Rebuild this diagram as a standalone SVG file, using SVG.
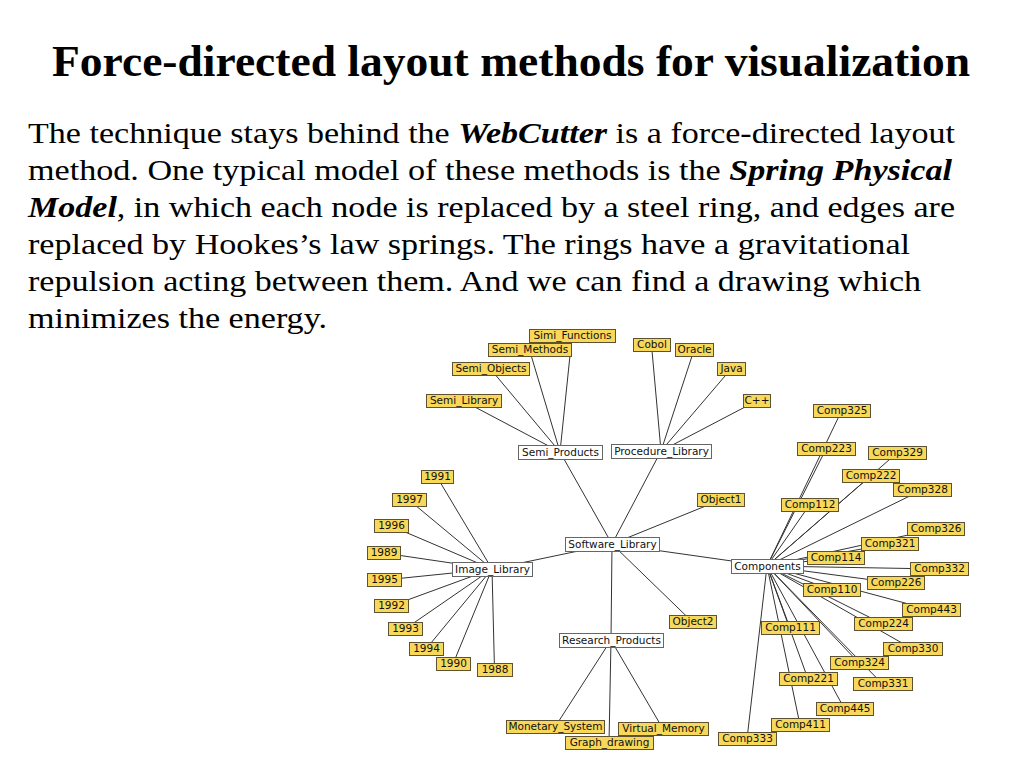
<svg xmlns="http://www.w3.org/2000/svg" width="1024" height="768" viewBox="0 0 1024 768">
<style>
.title{font-family:'Liberation Serif',serif;font-weight:bold;font-size:45px;fill:#000}
.body{font-family:'Liberation Serif',serif;font-size:30px;fill:#000}
.bi{font-weight:bold;font-style:italic}
.edges line{stroke:#333;stroke-width:1}
.leaf rect{fill:#f7d85a;stroke:#5e5230;stroke-width:1}
.hub rect{fill:#fff;stroke:#666;stroke-width:1}
.node text{font-family:'DejaVu Sans',sans-serif;font-size:10.5px;fill:#111;text-anchor:middle}
</style>
<rect width="1024" height="768" fill="#fff"/>
<text class="title" font-family="Liberation Serif" x="511" y="76" text-anchor="middle" textLength="918" lengthAdjust="spacingAndGlyphs">Force-directed layout methods for visualization</text>
<text class="body" font-family="Liberation Serif" x="28" y="143" textLength="927" lengthAdjust="spacingAndGlyphs">The technique stays behind the <tspan class="bi">WebCutter</tspan> is a force-directed layout</text>
<text class="body" font-family="Liberation Serif" x="28" y="180" textLength="924" lengthAdjust="spacingAndGlyphs">method. One typical model of these methods is the <tspan class="bi">Spring Physical</tspan></text>
<text class="body" font-family="Liberation Serif" x="28" y="217" textLength="927" lengthAdjust="spacingAndGlyphs"><tspan class="bi">Model</tspan>, in which each node is replaced by a steel ring, and edges are</text>
<text class="body" font-family="Liberation Serif" x="28" y="254" textLength="882" lengthAdjust="spacingAndGlyphs">replaced by Hookes’s law springs. The rings have a gravitational</text>
<text class="body" font-family="Liberation Serif" x="28" y="291" textLength="893" lengthAdjust="spacingAndGlyphs">repulsion acting between them. And we can find a drawing which</text>
<text class="body" font-family="Liberation Serif" x="28" y="328" textLength="299" lengthAdjust="spacingAndGlyphs">minimizes the energy.</text>

<g class="edges" id="connectors">
<line x1="572" y1="336" x2="560" y2="452"/>
<line x1="529.5" y1="350" x2="560" y2="452"/>
<line x1="490.5" y1="369" x2="560" y2="452"/>
<line x1="463.5" y1="401" x2="560" y2="452"/>
<line x1="651.5" y1="345" x2="661" y2="451"/>
<line x1="694" y1="350" x2="661" y2="451"/>
<line x1="731" y1="369" x2="661" y2="451"/>
<line x1="756.5" y1="401" x2="661" y2="451"/>
<line x1="560" y1="452" x2="612" y2="544"/>
<line x1="661" y1="451" x2="612" y2="544"/>
<line x1="720.5" y1="500" x2="612" y2="544"/>
<line x1="692.5" y1="622" x2="612" y2="544"/>
<line x1="492" y1="569" x2="612" y2="544"/>
<line x1="767" y1="566" x2="612" y2="544"/>
<line x1="611" y1="640" x2="612" y2="544"/>
<line x1="555" y1="727" x2="611" y2="640"/>
<line x1="609" y1="743" x2="611" y2="640"/>
<line x1="663" y1="729" x2="611" y2="640"/>
<line x1="437" y1="477" x2="492" y2="569"/>
<line x1="409" y1="500" x2="492" y2="569"/>
<line x1="391" y1="526" x2="492" y2="569"/>
<line x1="383.5" y1="553" x2="492" y2="569"/>
<line x1="384" y1="580" x2="492" y2="569"/>
<line x1="391" y1="606" x2="492" y2="569"/>
<line x1="405" y1="629" x2="492" y2="569"/>
<line x1="426" y1="649" x2="492" y2="569"/>
<line x1="453" y1="664" x2="492" y2="569"/>
<line x1="494.5" y1="670" x2="492" y2="569"/>
<line x1="841.5" y1="411" x2="767" y2="566"/>
<line x1="826" y1="449" x2="767" y2="566"/>
<line x1="897" y1="453" x2="767" y2="566"/>
<line x1="870.5" y1="476" x2="767" y2="566"/>
<line x1="922" y1="490" x2="767" y2="566"/>
<line x1="809.5" y1="505" x2="767" y2="566"/>
<line x1="935.5" y1="529" x2="767" y2="566"/>
<line x1="889.5" y1="544" x2="767" y2="566"/>
<line x1="835.5" y1="558" x2="767" y2="566"/>
<line x1="939" y1="569" x2="767" y2="566"/>
<line x1="895.5" y1="583" x2="767" y2="566"/>
<line x1="831.5" y1="590" x2="767" y2="566"/>
<line x1="931" y1="610" x2="767" y2="566"/>
<line x1="883" y1="624" x2="767" y2="566"/>
<line x1="790" y1="628" x2="767" y2="566"/>
<line x1="912.5" y1="649" x2="767" y2="566"/>
<line x1="859" y1="663" x2="767" y2="566"/>
<line x1="808" y1="679" x2="767" y2="566"/>
<line x1="882.5" y1="684" x2="767" y2="566"/>
<line x1="844.5" y1="709" x2="767" y2="566"/>
<line x1="800" y1="725" x2="767" y2="566"/>
<line x1="747" y1="739" x2="767" y2="566"/>
</g>

<g id="n-semi-products" class="node hub"><rect x="518.5" y="445.5" width="84" height="14"/><text x="560.5" y="455.5">Semi_Products</text></g>
<g id="n-procedure-library" class="node hub"><rect x="611.5" y="444.5" width="100" height="14"/><text x="661.5" y="454.5">Procedure_Library</text></g>
<g id="n-software-library" class="node hub"><rect x="565.5" y="537.5" width="94" height="14"/><text x="612.5" y="547.5">Software_Library</text></g>
<g id="n-image-library" class="node hub"><rect x="452.5" y="562.5" width="80" height="14"/><text x="492.5" y="572.5">Image_Library</text></g>
<g id="n-components" class="node hub"><rect x="731.5" y="559.5" width="72" height="14"/><text x="767.5" y="569.5">Components</text></g>
<g id="n-research-products" class="node hub"><rect x="559.5" y="633.5" width="104" height="14"/><text x="611.5" y="643.5">Research_Products</text></g>

<g id="n-simi-functions" class="node leaf"><rect x="529.5" y="329.5" width="86" height="13"/><text x="572.5" y="339">Simi_Functions</text></g>
<g id="n-semi-methods" class="node leaf"><rect x="488.5" y="343.5" width="83" height="13"/><text x="530" y="353">Semi_Methods</text></g>
<g id="n-semi-objects" class="node leaf"><rect x="452.5" y="362.5" width="77" height="13"/><text x="491" y="372">Semi_Objects</text></g>
<g id="n-semi-library" class="node leaf"><rect x="426.5" y="394.5" width="75" height="13"/><text x="464" y="404">Semi_Library</text></g>
<g id="n-cobol" class="node leaf"><rect x="633.5" y="338.5" width="37" height="13"/><text x="652" y="348">Cobol</text></g>
<g id="n-oracle" class="node leaf"><rect x="675.5" y="343.5" width="38" height="13"/><text x="694.5" y="353">Oracle</text></g>
<g id="n-java" class="node leaf"><rect x="717.5" y="362.5" width="28" height="13"/><text x="731.5" y="372">Java</text></g>
<g id="n-cpp" class="node leaf"><rect x="743.5" y="394.5" width="27" height="13"/><text x="757" y="404">C++</text></g>
<g id="n-object1" class="node leaf"><rect x="697.5" y="493.5" width="47" height="13"/><text x="721" y="503">Object1</text></g>
<g id="n-object2" class="node leaf"><rect x="669.5" y="615.5" width="47" height="13"/><text x="693" y="625">Object2</text></g>
<g id="n-monetary-system" class="node leaf"><rect x="506.5" y="720.5" width="98" height="13"/><text x="555.5" y="730">Monetary_System</text></g>
<g id="n-graph-drawing" class="node leaf"><rect x="565.5" y="736.5" width="88" height="13"/><text x="609.5" y="746">Graph_drawing</text></g>
<g id="n-virtual-memory" class="node leaf"><rect x="618.5" y="722.5" width="90" height="13"/><text x="663.5" y="732">Virtual_Memory</text></g>

<g id="n-1991" class="node leaf"><rect x="421.5" y="470.5" width="32" height="13"/><text x="437.5" y="480">1991</text></g>
<g id="n-1997" class="node leaf"><rect x="392.5" y="493.5" width="34" height="13"/><text x="409.5" y="503">1997</text></g>
<g id="n-1996" class="node leaf"><rect x="374.5" y="519.5" width="34" height="13"/><text x="391.5" y="529">1996</text></g>
<g id="n-1989" class="node leaf"><rect x="367.5" y="546.5" width="33" height="13"/><text x="384" y="556">1989</text></g>
<g id="n-1995" class="node leaf"><rect x="367.5" y="573.5" width="34" height="13"/><text x="384.5" y="583">1995</text></g>
<g id="n-1992" class="node leaf"><rect x="374.5" y="599.5" width="34" height="13"/><text x="391.5" y="609">1992</text></g>
<g id="n-1993" class="node leaf"><rect x="388.5" y="622.5" width="34" height="13"/><text x="405.5" y="632">1993</text></g>
<g id="n-1994" class="node leaf"><rect x="409.5" y="642.5" width="34" height="13"/><text x="426.5" y="652">1994</text></g>
<g id="n-1990" class="node leaf"><rect x="436.5" y="657.5" width="34" height="13"/><text x="453.5" y="667">1990</text></g>
<g id="n-1988" class="node leaf"><rect x="477.5" y="663.5" width="35" height="13"/><text x="495" y="673">1988</text></g>

<g id="n-comp325" class="node leaf"><rect x="813.5" y="404.5" width="57" height="13"/><text x="842" y="414">Comp325</text></g>
<g id="n-comp223" class="node leaf"><rect x="797.5" y="442.5" width="58" height="13"/><text x="826.5" y="452">Comp223</text></g>
<g id="n-comp329" class="node leaf"><rect x="868.5" y="446.5" width="58" height="13"/><text x="897.5" y="456">Comp329</text></g>
<g id="n-comp222" class="node leaf"><rect x="842.5" y="469.5" width="57" height="13"/><text x="871" y="479">Comp222</text></g>
<g id="n-comp328" class="node leaf"><rect x="893.5" y="483.5" width="58" height="13"/><text x="922.5" y="493">Comp328</text></g>
<g id="n-comp112" class="node leaf"><rect x="781.5" y="498.5" width="57" height="13"/><text x="810" y="508">Comp112</text></g>
<g id="n-comp326" class="node leaf"><rect x="907.5" y="522.5" width="57" height="13"/><text x="936" y="532">Comp326</text></g>
<g id="n-comp321" class="node leaf"><rect x="861.5" y="537.5" width="57" height="13"/><text x="890" y="547">Comp321</text></g>
<g id="n-comp114" class="node leaf"><rect x="807.5" y="551.5" width="57" height="13"/><text x="836" y="561">Comp114</text></g>
<g id="n-comp332" class="node leaf"><rect x="910.5" y="562.5" width="58" height="13"/><text x="939.5" y="572">Comp332</text></g>
<g id="n-comp226" class="node leaf"><rect x="867.5" y="576.5" width="57" height="13"/><text x="896" y="586">Comp226</text></g>
<g id="n-comp110" class="node leaf"><rect x="803.5" y="583.5" width="57" height="13"/><text x="832" y="593">Comp110</text></g>
<g id="n-comp443" class="node leaf"><rect x="902.5" y="603.5" width="58" height="13"/><text x="931.5" y="613">Comp443</text></g>
<g id="n-comp224" class="node leaf"><rect x="854.5" y="617.5" width="58" height="13"/><text x="883.5" y="627">Comp224</text></g>
<g id="n-comp111" class="node leaf"><rect x="761.5" y="621.5" width="58" height="13"/><text x="790.5" y="631">Comp111</text></g>
<g id="n-comp330" class="node leaf"><rect x="883.5" y="642.5" width="59" height="13"/><text x="913" y="652">Comp330</text></g>
<g id="n-comp324" class="node leaf"><rect x="830.5" y="656.5" width="58" height="13"/><text x="859.5" y="666">Comp324</text></g>
<g id="n-comp221" class="node leaf"><rect x="779.5" y="672.5" width="58" height="13"/><text x="808.5" y="682">Comp221</text></g>
<g id="n-comp331" class="node leaf"><rect x="853.5" y="677.5" width="59" height="13"/><text x="883" y="687">Comp331</text></g>
<g id="n-comp445" class="node leaf"><rect x="816.5" y="702.5" width="57" height="13"/><text x="845" y="712">Comp445</text></g>
<g id="n-comp411" class="node leaf"><rect x="771.5" y="718.5" width="58" height="13"/><text x="800.5" y="728">Comp411</text></g>
<g id="n-comp333" class="node leaf"><rect x="718.5" y="732.5" width="58" height="13"/><text x="747.5" y="742">Comp333</text></g>
</svg>
